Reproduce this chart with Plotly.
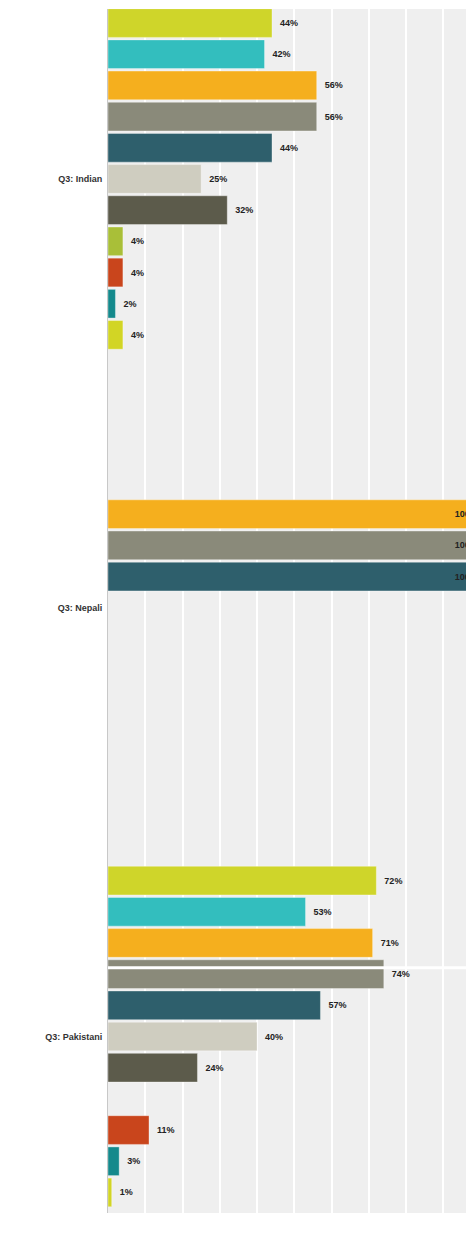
import plotly.graph_objects as go

categories = ["Q3: Indian", "Q3: Nepali", "Q3: Pakistani"]

series_colors = ["#CFD52A", "#33BEBE", "#F5AF1E", "#8A8A7A", "#2E5F6C", "#CFCDC0",
                 "#5C5B4B", "#A9BF38", "#C9451C", "#14898C", "#D2D525"]

# values per series: [Indian, Nepali, Pakistani]  (None = no response)
s1 = [44, None, 72]
s2 = [42, None, 53]
s3 = [56, 100, 71]
s4 = [56, 100, 74]
s5 = [44, 100, 57]
s6 = [25, None, 40]
s7 = [32, None, 24]
s8 = [4, None, None]
s9 = [4, None, 11]
s10 = [2, None, 3]
s11 = [4, None, 1]

series = [s1, s2, s3, s4, s5, s6, s7, s8, s9, s10, s11]

FONT = "Liberation Sans, Arial, sans-serif"

fig = go.Figure()
for vals, col in zip(series, series_colors):
    texts, pos = [], []
    for v in vals:
        if v is None:
            texts.append("")
            pos.append("none")
        elif v >= 100:
            texts.append(f"{v}%")
            pos.append("inside")
        else:
            texts.append(f"  {v}%")
            pos.append("outside")
    fig.add_trace(go.Bar(
        y=categories, x=vals, orientation="h",
        marker=dict(color=col, line=dict(color="rgba(255,255,255,0.35)", width=1)),
        text=texts, textposition=pos, insidetextanchor="end",
        textfont=dict(family=FONT, size=9, color="#222222"),
        insidetextfont=dict(family=FONT, size=9, color="#222222"),
        outsidetextfont=dict(family=FONT, size=9, color="#222222"),
        cliponaxis=True, showlegend=False, hoverinfo="skip",
        texttemplate="<b>%{text}</b>",
    ))

fig.update_layout(
    width=466, height=1249,
    margin=dict(l=108, r=0, t=9, b=36, pad=0),
    barmode="group", bargap=0.2, bargroupgap=0.08,
    plot_bgcolor="#EFEFEF", paper_bgcolor="#FFFFFF",
    shapes=[dict(type="line", xref="paper", yref="paper", x0=0, x1=1,
                 y0=0.2037, y1=0.2037, line=dict(color="#FFFFFF", width=3), layer="above")],
)
fig.update_xaxes(range=[0, 96.05], dtick=10, showgrid=True, gridcolor="#FFFFFF", gridwidth=1.5,
                 showticklabels=False, zeroline=False, showline=False, fixedrange=True)
fig.update_yaxes(type="category", range=[2.4116, -0.3964], showgrid=False,
                 showline=True, linecolor="#C8C8C8", linewidth=1, ticks="",
                 ticklabelstandoff=3,
                 tickfont=dict(family=FONT, size=9, color="#333333"),
                 tickvals=categories, ticktext=[f"<b>{c}</b>" for c in categories])

fig.write_html("out.html", config={"displayModeBar": False},
               post_script="document.body.style.margin='0';document.body.style.overflow='hidden';")
